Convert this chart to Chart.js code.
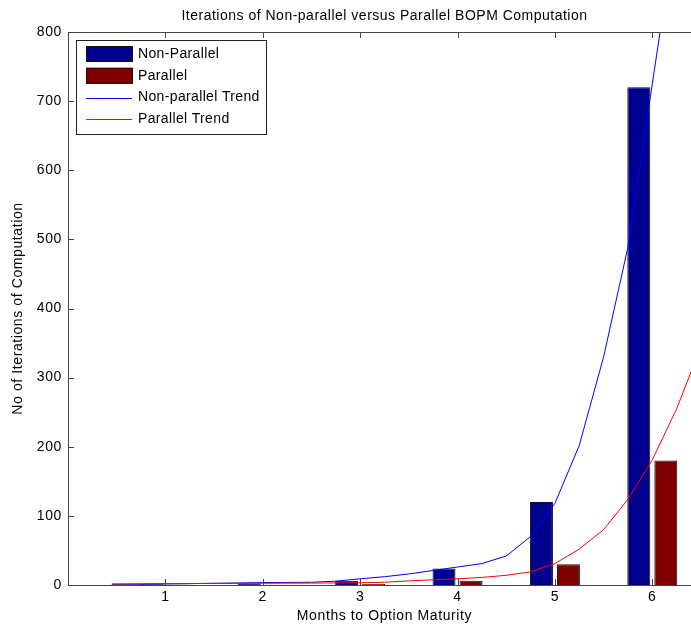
<!DOCTYPE html>
<html>
<head>
<title>BOPM Iterations</title>
<script src="https://cdn.jsdelivr.net/npm/chart.js"></script>
<style>
    body { margin: 0; background: #fff; overflow: hidden; }
    #wrap { position: relative; width: 708px; height: 628px; }
</style>
</head>
<body>
<div id="wrap"><canvas id="chart" width="708" height="628"></canvas></div>
<script>
// data
const months = [1, 2, 3, 4, 5, 6];
const nonParallel = [1, 2, 6, 24, 120, 720];
const parallel = [0.25, 0.5, 1.5, 6, 30, 180];

const trendX = [0.45, 0.75, 1, 1.5, 2, 2.5, 2.75, 3, 3.25, 3.5, 3.75, 4, 4.25, 4.5, 4.75, 5, 5.25, 5.5, 5.75, 6, 6.25, 6.5];
const nonParallelTrend = [1, 1, 1.5, 2.5, 3.5, 4, 5.5, 9, 12, 16, 21, 26, 31, 42, 70, 118, 202, 330, 489, 725, 960, 1300];
const parallelTrend = [1.5, 1.8, 2, 2.2, 2.5, 2.8, 3, 3.2, 4, 6, 7.5, 9, 11, 14, 19, 31, 52, 80, 124, 181, 255, 345];

const yTicks = [0, 100, 200, 300, 400, 500, 600, 700, 800];

const FONT = 'Arial, "Liberation Sans", sans-serif';
const AXIS = '#444';

const pts = (xs, ys) => xs.map((x, i) => ({ x: x, y: ys[i] }));

const legendItems = [
    { label: 'Non-Parallel', type: 'bar', color: '#00008F' },
    { label: 'Parallel', type: 'bar', color: '#800000' },
    { label: 'Non-parallel Trend', type: 'line', color: '#0000FF' },
    { label: 'Parallel Trend', type: 'line', color: '#FF0000' }
];

const decor = {
    id: 'decor',
    beforeDraw(chart) {
        chart.ctx.letterSpacing = '0.6px';
    },
    afterDraw(chart) {
        const ctx = chart.ctx;
        const a = chart.chartArea;
        const xs = chart.scales.x, ys = chart.scales.y;
        ctx.save();
        ctx.strokeStyle = AXIS;
        ctx.lineWidth = 1;
        ctx.strokeRect(a.left + 0.5, a.top + 0.5, a.right - a.left - 1, a.bottom - a.top);
        ctx.beginPath();
        months.forEach(m => {
            const px = Math.round(xs.getPixelForValue(m)) + 0.5;
            ctx.moveTo(px, a.bottom); ctx.lineTo(px, a.bottom - 6);
            ctx.moveTo(px, a.top); ctx.lineTo(px, a.top + 6);
        });
        yTicks.forEach(v => {
            const py = Math.round(ys.getPixelForValue(v)) + 0.5;
            ctx.moveTo(a.left, py); ctx.lineTo(a.left + 6, py);
            ctx.moveTo(a.right, py); ctx.lineTo(a.right - 6, py);
        });
        ctx.stroke();

        // title
        ctx.fillStyle = '#000';
        ctx.font = '14px ' + FONT;
        ctx.letterSpacing = '0.5px';
        ctx.textAlign = 'center';
        ctx.textBaseline = 'middle';
        ctx.fillText('Iterations of Non-parallel versus Parallel BOPM Computation', (a.left + a.right) / 2, 16);

        // legend
        const lx = 76, ly = 40, lw = 190, lh = 94;
        ctx.fillStyle = '#fff';
        ctx.fillRect(lx, ly, lw, lh);
        ctx.strokeStyle = '#222';
        ctx.strokeRect(lx + 0.5, ly + 0.5, lw, lh);
        ctx.font = '14px ' + FONT;
        ctx.letterSpacing = '0.35px';
        ctx.textAlign = 'left';
        legendItems.forEach((it, i) => {
            const cy = 54 + i * 21.8;
            if (it.type === 'bar') {
                ctx.fillStyle = it.color;
                ctx.fillRect(86, cy - 8, 47, 16);
                ctx.strokeStyle = '#111';
                ctx.strokeRect(86.5, cy - 7.5, 46, 15);
            } else {
                ctx.strokeStyle = it.color;
                ctx.beginPath();
                ctx.moveTo(86, Math.round(cy) + 0.5);
                ctx.lineTo(132, Math.round(cy) + 0.5);
                ctx.stroke();
            }
            ctx.fillStyle = '#000';
            ctx.fillText(it.label, 138, cy);
        });
        ctx.restore();
    }
};

new Chart(document.getElementById('chart'), {
    type: 'bar',
    data: {
        datasets: [
            { label: 'Non-Parallel', data: pts(months, nonParallel), backgroundColor: '#00008F',
              borderColor: '#111', borderWidth: 1, categoryPercentage: 0.555, barPercentage: 0.85, order: 3 },
            { label: 'Parallel', data: pts(months, parallel), backgroundColor: '#800000',
              borderColor: '#111', borderWidth: 1, categoryPercentage: 0.555, barPercentage: 0.85, order: 4 },
            { type: 'line', label: 'Non-parallel Trend', data: pts(trendX, nonParallelTrend), borderColor: '#0000FF',
              borderWidth: 1, pointRadius: 0, tension: 0, fill: false, order: 2 },
            { type: 'line', label: 'Parallel Trend', data: pts(trendX, parallelTrend), borderColor: '#FF0000',
              borderWidth: 1, pointRadius: 0, tension: 0, fill: false, order: 1 }
        ]
    },
    options: {
        responsive: false,
        animation: false,
        layout: { padding: { top: 32, right: 7, left: 0, bottom: 0 } },
        plugins: { legend: { display: false }, tooltip: { enabled: false } },
        scales: {
            x: {
                type: 'linear', min: 0, max: 6.5, offset: false,
                afterBuildTicks: s => { s.ticks = months.map(v => ({ value: v })); },
                afterFit: s => { s.height = 43; },
                grid: { display: false, drawTicks: false, offset: false },
                border: { display: false },
                ticks: { font: { family: FONT, size: 14 }, color: '#000', padding: 4, maxRotation: 0, autoSkip: false },
                title: { display: true, text: 'Months to Option Maturity', font: { family: FONT, size: 14 },
                         color: '#000', padding: { top: 0, bottom: 3 } }
            },
            y: {
                min: 0, max: 800,
                afterBuildTicks: s => { s.ticks = yTicks.map(v => ({ value: v })); },
                afterFit: s => { s.width = 68; },
                grid: { display: false, drawTicks: false },
                border: { display: false },
                ticks: { font: { family: FONT, size: 14 }, color: '#000', padding: 6 },
                title: { display: true, text: 'No of Iterations of Computation', font: { family: FONT, size: 14 },
                         color: '#000', padding: { top: 10, bottom: 0 } }
            }
        }
    },
    plugins: [decor]
});
</script>
</body>
</html>
